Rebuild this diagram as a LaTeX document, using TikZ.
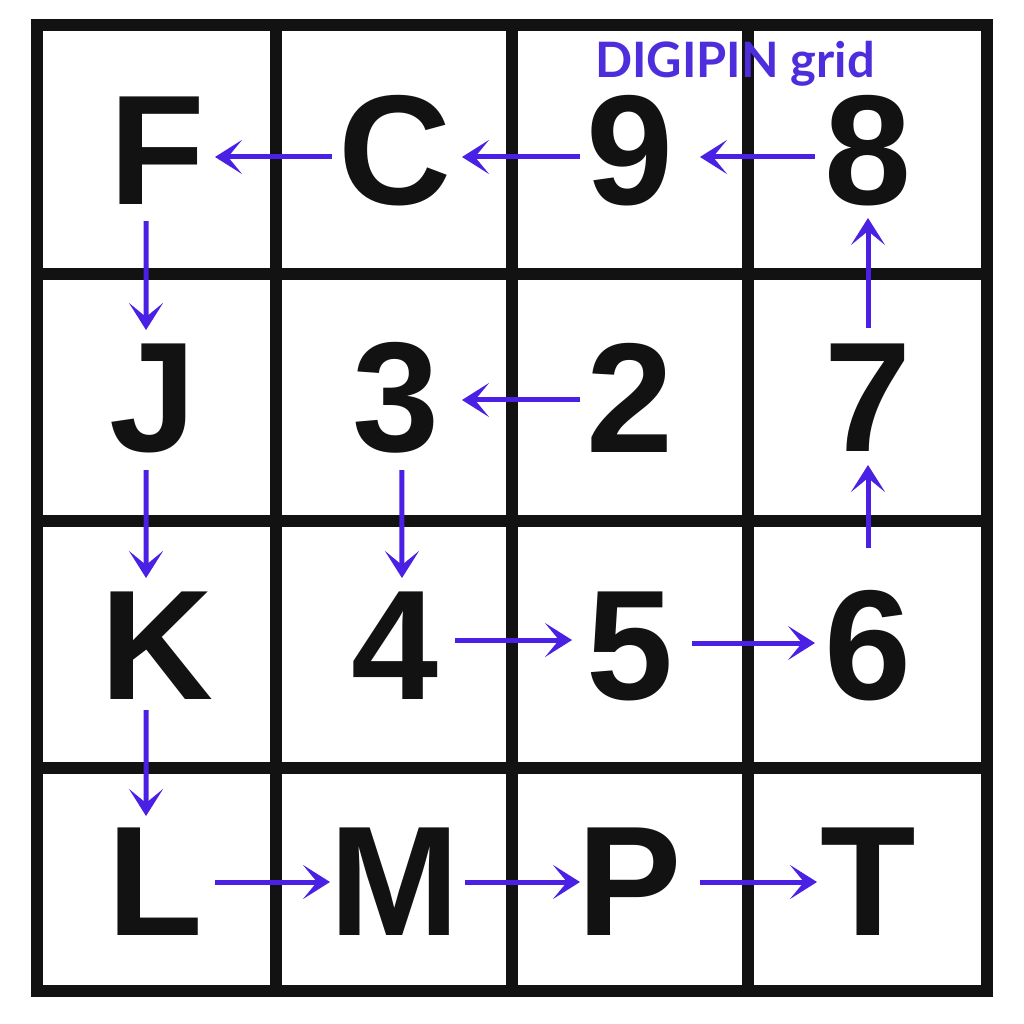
\documentclass[tikz,border=0pt]{standalone}
\usepackage{fontspec}
\setmainfont{Liberation Sans}
\newfontfamily\latofont{Lato}
\usetikzlibrary{arrows.meta}
\definecolor{arrowblue}{HTML}{4A20E4}
\definecolor{titleblue}{HTML}{4E2EDC}
\tikzset{
  gridline/.style={line width=12bp, black!93},
  glyph/.style={inner sep=0pt, anchor=center, text=black!93,
    font=\fontsize{157}{157}\selectfont\bfseries},
  flowarrow/.style={line width=5bp, arrowblue,
    -{Stealth[length=27bp, width=34bp, inset=14bp]}},
}
\begin{document}
\begin{tikzpicture}[x=1bp, y=-1bp]
\useasboundingbox (0,0) rectangle (1024,1024);
\fill[white] (0,0) rectangle (1024,1024);
% grid
\foreach \gx in {275.5, 511.5, 748} {\draw[gridline] (\gx,25) -- (\gx,991);}
\foreach \gy in {273.5, 521, 767.5} {\draw[gridline] (37,\gy) -- (986.5,\gy);}
\draw[gridline] (37,25) rectangle (986.5,991);
% title
\node[anchor=base, text=titleblue, inner sep=0pt,
  font=\latofont\bfseries\fontsize{49}{49}\selectfont] (title) at (735,77) {DIGIPIN grid};
% letters
\node[glyph] (F) at (157,151) {F};
\node[glyph] (C) at (395,151) {C};
\node[glyph] (n9) at (630,151) {9};
\node[glyph] (n8) at (868,151) {8};
\node[glyph] (J) at (153,398) {J};
\node[glyph] (n3) at (396,398) {3};
\node[glyph] (n2) at (630,398) {2};
\node[glyph] (n7) at (868,398) {7};
\node[glyph] (K) at (157,646) {K};
\node[glyph] (n4) at (395,646) {4};
\node[glyph] (n5) at (630,646) {5};
\node[glyph] (n6) at (868,646) {6};
\node[glyph] (L) at (155,882) {L};
\node[glyph] (M) at (395,882) {M};
\node[glyph] (P) at (630,882) {P};
\node[glyph] (T) at (868,882) {T};
% arrows
\draw[flowarrow, shorten <=63bp, shorten >=58bp] ([yshift=-6]C.center) -- ([yshift=-6]F.center);
\draw[flowarrow, shorten <=50bp, shorten >=67bp] ([yshift=-6]n9.center) -- ([yshift=-6]C.center);
\draw[flowarrow, shorten <=53bp, shorten >=70bp] ([yshift=-6]n8.center) -- ([yshift=-6]n9.center);
\draw[flowarrow, shorten <=70bp, shorten >=68bp] ([xshift=-11]F.center) -- ([xshift=-7]J.center);
\draw[flowarrow, shorten <=72bp, shorten >=68bp] ([xshift=-7]J.center) -- ([xshift=-11]K.center);
\draw[flowarrow, shorten <=64bp, shorten >=66bp] ([xshift=-11]K.center) -- ([xshift=-9]L.center);
\draw[flowarrow, shorten <=60bp, shorten >=65bp] (L.center) -- (M.center);
\draw[flowarrow, shorten <=70bp, shorten >=50bp] (M.center) -- (P.center);
\draw[flowarrow, shorten <=70bp, shorten >=51bp] (P.center) -- (T.center);
\draw[flowarrow, shorten <=50bp, shorten >=66bp] ([yshift=-2]n2.center) -- ([yshift=-2]n3.center);
\draw[flowarrow, shorten <=72bp, shorten >=68bp] ([xshift=6]n3.center) -- ([xshift=7]n4.center);
\draw[flowarrow, shorten <=60bp, shorten >=58bp] ([yshift=6]n4.center) -- ([yshift=6]n5.center);
\draw[flowarrow, shorten <=62bp, shorten >=53bp] ([yshift=3]n5.center) -- ([yshift=3]n6.center);
\draw[flowarrow, shorten <=98bp, shorten >=67bp] (n6.center) -- (n7.center);
\draw[flowarrow, shorten <=70bp, shorten >=67bp] (n7.center) -- (n8.center);
\end{tikzpicture}
\end{document}
